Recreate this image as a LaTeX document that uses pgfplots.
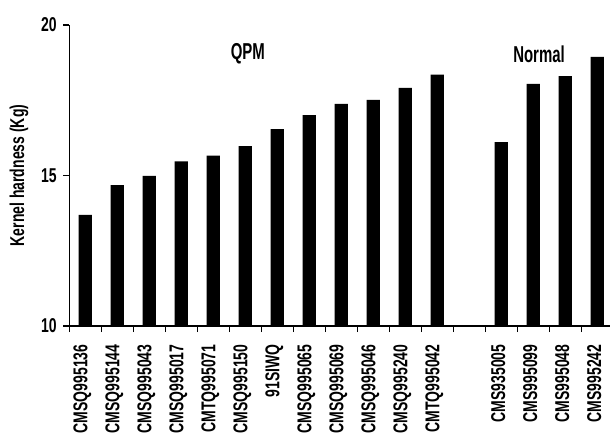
\documentclass[border=0pt]{standalone}
\usepackage{pgfplots}
\pgfplotsset{compat=1.18}
\usepackage{fontspec}
\setmainfont{Liberation Sans}[FakeStretch=0.7]
\newfontfamily\grpfont{Liberation Sans}[FakeStretch=0.65]
\begin{document}
\begin{tikzpicture}
\begin{axis}[
  at={(69.3pt,106pt)}, anchor=south west,
  scale only axis,
  width=544pt, height=301pt,
  xmin=-0.5, xmax=16.5,
  ymin=10, ymax=20,
  axis x line=bottom, axis y line=left,
  axis line style={line width=1.4pt, -},
  tick align=outside,
  major tick length=6pt,
  tick style={line width=1.2pt, black},
  ytick={10,15,20},
  yticklabels={10,15,20},
  xtick={-0.5,0.5,1.5,2.5,3.5,4.5,5.5,6.5,7.5,8.5,9.5,10.5,11.5,12.5,13.5,14.5,15.5,16.5},
  x tick label as interval,
  xticklabels={CMSQ995136,CMSQ995144,CMSQ995043,CMSQ995017,CMTQ995071,CMSQ995150,91SIWQ,CMSQ995065,CMSQ995069,CMSQ995046,CMSQ995240,CMTQ995042,{},CMS935005,CMS995099,CMS995048,CMS995242},
  xticklabel style={font=\fontsize{20}{24}\selectfont\bfseries, rotate=90, anchor=east, xshift=-9pt, yshift=3pt},
  yticklabel style={font=\fontsize{20}{24}\selectfont\bfseries, xshift=-3pt},
  ylabel={Kernel hardness (Kg)},
  ylabel style={at={(axis description cs:-0.0925,0.5)}, anchor=center, font=\fontsize{20}{24}\selectfont\bfseries},
  ybar, bar width=13.3pt,
  clip=false,
]
\addplot[fill=black, draw=none] coordinates {
  (0,13.69) (1,14.68) (2,14.99) (3,15.47) (4,15.66) (5,15.98)
  (6,16.54) (7,17.01) (8,17.38) (9,17.51) (10,17.91) (11,18.35)
  (13,16.11) (14,18.04) (15,18.30) (16,18.94)
};
\node[font=\grpfont\fontsize{23}{26}\selectfont\bfseries] at (axis cs:5.08,19.04) {QPM};
\node[font=\grpfont\fontsize{23}{26}\selectfont\bfseries] at (axis cs:14.18,19.04) {Normal};
\end{axis}
\pgfresetboundingbox
\path[use as bounding box] (0,0) rectangle (610pt,432pt);
\end{tikzpicture}
\end{document}
